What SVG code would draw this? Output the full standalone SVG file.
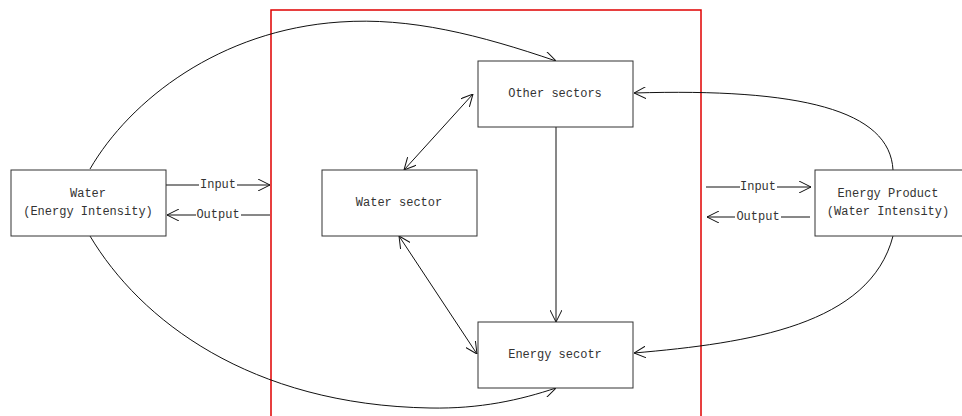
<svg xmlns="http://www.w3.org/2000/svg" width="962" height="416" viewBox="0 0 962 416">
<style>
.box{fill:#fff;stroke:#333;stroke-width:1}
.t{font-family:"Liberation Mono","DejaVu Sans Mono",monospace;font-size:12px;fill:#333;text-anchor:middle;dominant-baseline:central}
.c{fill:none;stroke:#111;stroke-width:1}
.a{marker-end:url(#ah)}
.d{marker-start:url(#ah);marker-end:url(#ah)}
</style>
<defs>
<marker id="ah" viewBox="0 0 12 12" refX="12" refY="6" markerWidth="12" markerHeight="12" markerUnits="userSpaceOnUse" orient="auto-start-reverse">
<path d="M0,0 L12,6 L0,12" fill="none" stroke="#111" stroke-width="1"/>
</marker>
</defs>
<rect id="frame" x="271" y="10" width="430" height="420" fill="none" stroke="#e00000" stroke-width="1.5"/>
<g id="connectors">
<path class="c a" d="M90,169 C130,100 220,30 340,22 C410,17 480,35 556,61"/>
<path class="c a" d="M90,236 C140,320 250,405 430,408 C480,409 520,400 556,388"/>
<path class="c a" d="M893,170 C890,110 800,88 634,93"/>
<path class="c a" d="M893,236 C870,325 750,343 634,353"/>
<path class="c a" d="M556,127 L556,322"/>
<path class="c d" d="M404,170 L473,94"/>
<path class="c d" d="M399,236 L477,354"/>
<path class="c" d="M166,185 L199,185"/>
<path class="c a" d="M237,185 L270,185"/>
<path class="c a" d="M196,215 L167,215"/>
<path class="c" d="M270,215 L241,215"/>
<path class="c" d="M706,187 L740,187"/>
<path class="c a" d="M777,187 L811,187"/>
<path class="c a" d="M735,217 L707,217"/>
<path class="c" d="M810,217 L781,217"/>
<text class="t" x="218" y="185">Input</text>
<text class="t" x="218" y="215">Output</text>
<text class="t" x="758" y="187">Input</text>
<text class="t" x="758" y="217">Output</text>
</g>
<g id="water">
<rect class="box" x="11" y="170" width="155" height="66"/>
<text class="t" x="88" y="194">Water</text>
<text class="t" x="88" y="212">(Energy Intensity)</text>
</g>
<g id="energy-product">
<rect class="box" x="815" y="170" width="160" height="66"/>
<text class="t" x="888" y="194">Energy Product</text>
<text class="t" x="888" y="212">(Water Intensity)</text>
</g>
<g id="other-sectors">
<rect class="box" x="478" y="61" width="155" height="66"/>
<text class="t" x="555" y="94">Other sectors</text>
</g>
<g id="water-sector">
<rect class="box" x="322" y="170" width="155" height="66"/>
<text class="t" x="399" y="203">Water sector</text>
</g>
<g id="energy-sector">
<rect class="box" x="478" y="322" width="155" height="66"/>
<text class="t" x="555" y="355">Energy secotr</text>
</g>
</svg>
